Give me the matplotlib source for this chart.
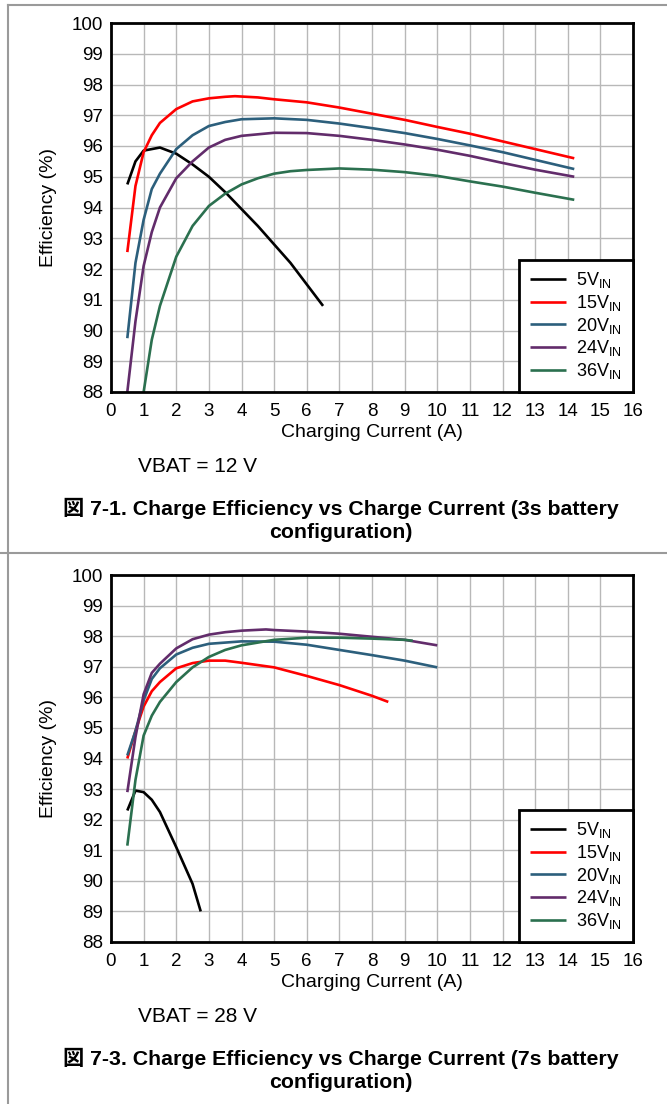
import matplotlib
matplotlib.use("Agg")
import matplotlib.pyplot as plt
from matplotlib.lines import Line2D

plt.rcParams['font.family'] = ['Liberation Sans', 'Noto Sans CJK JP', 'DejaVu Sans']
plt.rcParams['mathtext.fontset'] = 'custom'
plt.rcParams['mathtext.rm'] = 'Liberation Sans'

W, H = 667, 1104

labels = ["5V$_{\\mathrm{IN}}$", "15V$_{\\mathrm{IN}}$", "20V$_{\\mathrm{IN}}$",
          "24V$_{\\mathrm{IN}}$", "36V$_{\\mathrm{IN}}$"]
colors = ["#000000", "#ff0000", "#2c5f7c", "#622c6b", "#2b704f"]

# VBAT = 12 V (3s)
x12_5v = [0.5, 0.75, 1, 1.5, 2, 2.5, 3, 3.5, 4, 4.5, 5, 5.5, 6, 6.5]
y12_5v = [94.75, 95.5, 95.85, 95.95, 95.75, 95.4, 95.0, 94.5, 93.95, 93.4, 92.8, 92.2, 91.5, 90.8]
x12_15v = [0.5, 0.75, 1, 1.25, 1.5, 2, 2.5, 3, 3.5, 3.8, 4.5, 5, 6, 7, 8, 9, 10, 11, 12, 13, 14.2]
y12_15v = [92.55, 94.7, 95.8, 96.35, 96.75, 97.2, 97.45, 97.55, 97.6, 97.62, 97.58, 97.52,
           97.42, 97.25, 97.05, 96.85, 96.62, 96.4, 96.15, 95.9, 95.6]
x12_20v = [0.5, 0.75, 1, 1.25, 1.5, 2, 2.5, 3, 3.5, 4, 5, 6, 7, 8, 9, 10, 11, 12, 13, 14.2]
y12_20v = [89.75, 92.2, 93.6, 94.6, 95.1, 95.9, 96.35, 96.65, 96.78, 96.87, 96.9, 96.85,
           96.73, 96.58, 96.42, 96.23, 96.02, 95.8, 95.55, 95.25]
x12_24v = [0.5, 0.75, 1, 1.25, 1.5, 2, 2.5, 3, 3.5, 4, 5, 6, 7, 8, 9, 10, 11, 12, 13, 14.2]
y12_24v = [88.0, 90.3, 92.1, 93.2, 94.0, 94.95, 95.5, 95.95, 96.2, 96.33, 96.43, 96.42,
           96.33, 96.2, 96.05, 95.88, 95.68, 95.45, 95.23, 95.0]
x12_36v = [1, 1.25, 1.5, 2, 2.5, 3, 3.5, 4, 4.5, 5, 5.5, 6, 7, 8, 9, 10, 11, 12, 13, 14.2]
y12_36v = [88.0, 89.7, 90.8, 92.4, 93.4, 94.05, 94.45, 94.75, 94.95, 95.1, 95.18, 95.22,
           95.27, 95.23, 95.15, 95.03, 94.85, 94.68, 94.48, 94.25]

# VBAT = 28 V (7s)
x28_5v = [0.5, 0.75, 1, 1.25, 1.5, 2, 2.5, 2.75]
y28_5v = [92.3, 92.95, 92.9, 92.65, 92.25, 91.1, 89.9, 89.0]
x28_15v = [0.5, 0.75, 1, 1.25, 1.5, 2, 2.5, 3, 3.5, 4, 5, 6, 7, 8, 8.5]
y28_15v = [94.0, 94.9, 95.7, 96.2, 96.5, 96.95, 97.12, 97.2, 97.2, 97.13, 96.98, 96.7,
           96.4, 96.05, 95.85]
x28_20v = [0.5, 0.75, 1, 1.25, 1.5, 2, 2.5, 3, 4, 5, 6, 7, 8, 9, 10]
y28_20v = [94.1, 94.9, 95.9, 96.6, 96.95, 97.4, 97.62, 97.75, 97.83, 97.82, 97.72, 97.55,
           97.38, 97.2, 96.98]
x28_24v = [0.5, 0.75, 1, 1.25, 1.5, 2, 2.5, 3, 3.5, 4, 4.75, 5, 6, 7, 8, 9, 10]
y28_24v = [92.9, 94.7, 96.1, 96.8, 97.1, 97.6, 97.9, 98.05, 98.13, 98.18, 98.22, 98.2,
           98.15, 98.08, 97.98, 97.88, 97.7]
x28_36v = [0.5, 0.75, 1, 1.25, 1.5, 2, 2.5, 3, 3.5, 4, 5, 6, 7, 8, 9, 9.25]
y28_36v = [91.15, 93.3, 94.75, 95.4, 95.85, 96.5, 96.98, 97.32, 97.55, 97.7, 97.88, 97.95,
           97.95, 97.92, 97.88, 97.85]

panels = [
    {"series": [(x12_5v, y12_5v), (x12_15v, y12_15v), (x12_20v, y12_20v),
                (x12_24v, y12_24v), (x12_36v, y12_36v)],
     "top": 23, "bottom": 392, "vbat": "VBAT = 12 V",
     "caption": ["図 7-1. Charge Efficiency vs Charge Current (3s battery", "configuration)"]},
    {"series": [(x28_5v, y28_5v), (x28_15v, y28_15v), (x28_20v, y28_20v),
                (x28_24v, y28_24v), (x28_36v, y28_36v)],
     "top": 575, "bottom": 942, "vbat": "VBAT = 28 V",
     "caption": ["図 7-3. Charge Efficiency vs Charge Current (7s battery", "configuration)"]},
]


def fx(x):
    return x / W


def fy(y):
    return 1 - y / H


fig = plt.figure(figsize=(W / 100, H / 100), dpi=100)

# outer frame lines
border = "#9a9a9a"
fig.add_artist(Line2D([fx(8), fx(8)], [fy(5), fy(H)], color=border, lw=1.5))
fig.add_artist(Line2D([fx(8), 1], [fy(5), fy(5)], color=border, lw=1.5))
fig.add_artist(Line2D([0, 1], [fy(553), fy(553)], color=border, lw=1.5))

for p in panels:
    ax = fig.add_axes([fx(111), fy(p["bottom"]), (633 - 111) / W, (p["bottom"] - p["top"]) / H])
    for (xs, ys), c, lab in zip(p["series"], colors, labels):
        ax.plot(xs, ys, color=c, lw=1.9, label=lab, solid_capstyle='butt')
    ax.set_xlim(0, 16)
    ax.set_ylim(88, 100)
    ax.set_xticks(range(0, 17))
    ax.set_yticks(range(88, 101))
    ax.grid(True, color="#b8b8b8", lw=1.0)
    ax.set_axisbelow(True)
    ax.tick_params(length=0, labelsize=13.5)
    ax.tick_params(axis="x", pad=8)
    ax.tick_params(axis="y", pad=6)
    for s in ax.spines.values():
        s.set_linewidth(2.0)
    ax.set_xlabel("Charging Current (A)", fontsize=14, labelpad=3)
    ax.set_ylabel("Efficiency (%)", fontsize=14)
    leg = ax.legend(loc="lower right", borderaxespad=0, fontsize=13, frameon=True,
                    fancybox=False, handlelength=2.0, handletextpad=0.6,
                    labelspacing=0.15, borderpad=0.6)
    leg.get_frame().set_edgecolor("black")
    leg.get_frame().set_linewidth(2.0)
    leg.get_frame().set_alpha(1)
    ax.yaxis.set_label_coords((57 - 111) / (633 - 111), 0.5)

    fig.text(fx(138), fy(p["bottom"] + 75), p["vbat"], fontsize=15, va="center", ha="left")
    fig.text(fx(341), fy(p["bottom"] + 116), p["caption"][0], fontsize=15.3, fontweight="bold",
             va="center", ha="center")
    fig.text(fx(341), fy(p["bottom"] + 141), p["caption"][1], fontsize=15.3, fontweight="bold",
             va="center", ha="center")

fig.savefig("out.png", dpi=100)
